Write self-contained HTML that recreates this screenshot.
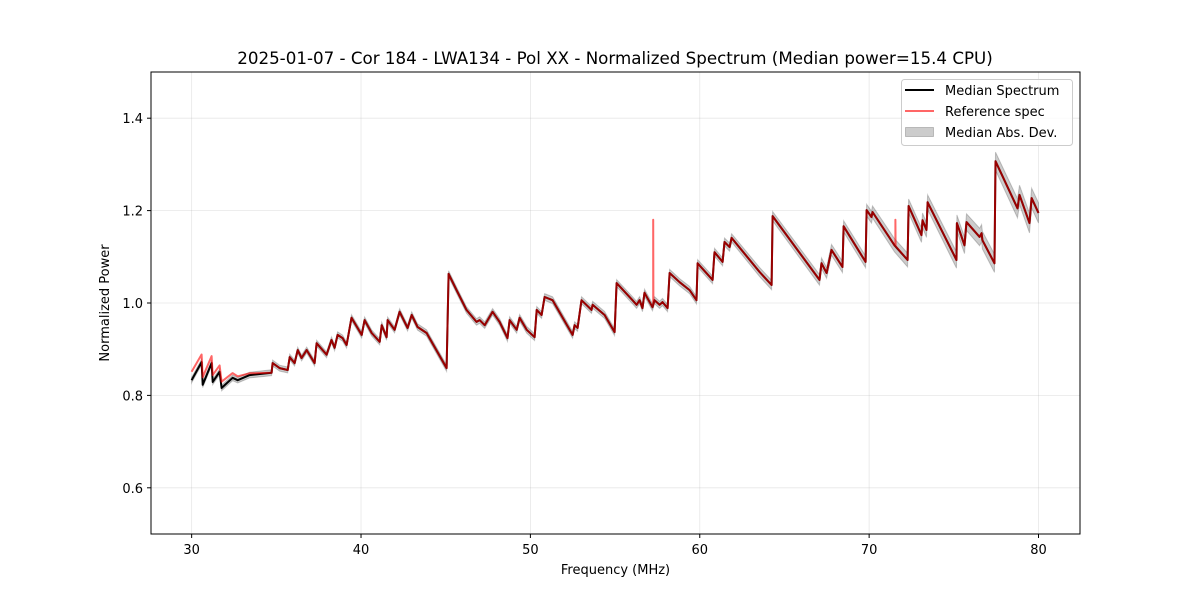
<!DOCTYPE html>
<html><head><meta charset="utf-8">
<style>
html,body{margin:0;padding:0;background:#fff;}
svg text{font-family:"DejaVu Sans","Liberation Sans",sans-serif;}
</style></head>
<body>
<svg id="chart" width="1200" height="600" viewBox="0 0 1200 600" xmlns="http://www.w3.org/2000/svg">
<rect width="1200" height="600" fill="#fff"/>
<text x="615" y="64" font-size="16.7" text-anchor="middle" fill="#000">2025-01-07 - Cor 184 - LWA134 - Pol XX - Normalized Spectrum (Median power=15.4 CPU)</text>
<g id="grid"></g>
<g id="series"></g>
<rect x="151" y="72" width="929" height="462" fill="none" stroke="#000" stroke-width="1"/>
<g id="ticks"></g>
<text x="615.5" y="574" font-size="13" text-anchor="middle">Frequency (MHz)</text>
<text transform="translate(109,303) rotate(-90)" font-size="13" text-anchor="middle">Normalized Power</text>
<g>
<rect x="901.5" y="79.5" width="171" height="66" rx="3" fill="#fff" fill-opacity="0.8" stroke="#ccc"/>
<line x1="905" y1="90" x2="934" y2="90" stroke="#000" stroke-width="2"/>
<text x="945" y="95" font-size="13">Median Spectrum</text>
<line x1="905" y1="111" x2="934" y2="111" stroke="#ff0000" stroke-opacity="0.6" stroke-width="2"/>
<text x="945" y="116" font-size="13">Reference spec</text>
<rect x="905.5" y="127.5" width="28" height="9" fill="#000" fill-opacity="0.2" stroke="#000" stroke-opacity="0.2"/>
<text x="945" y="137" font-size="13">Median Abs. Dev.</text>
</g>
</svg>
<script>
const freqs=[30.00,30.59,30.65,31.18,31.24,31.65,31.77,32.42,32.72,33.42,34.72,34.78,35.19,35.67,35.79,36.08,36.26,36.49,36.79,37.26,37.38,37.97,38.26,38.44,38.62,38.91,39.15,39.44,40.04,40.21,40.63,41.10,41.22,41.51,41.57,41.98,42.28,42.75,42.99,43.34,43.87,45.05,45.17,45.64,46.23,46.82,47.00,47.30,47.77,48.18,48.65,48.77,49.19,49.36,49.78,50.25,50.37,50.66,50.84,51.31,52.49,52.61,52.79,53.02,53.61,53.67,54.38,54.97,55.09,56.03,56.27,56.45,56.62,56.74,57.21,57.33,57.63,57.80,58.10,58.22,58.81,59.40,59.81,59.87,60.76,60.87,61.35,61.46,61.76,61.88,63.53,64.24,64.30,67.07,67.19,67.49,67.78,68.43,68.49,69.79,69.85,70.14,70.20,71.50,72.27,72.33,73.09,73.15,73.39,73.45,75.16,75.18,75.63,75.75,76.52,76.64,76.69,77.40,77.46,78.76,78.88,79.47,79.59,80.00];
const median=[0.833,0.872,0.823,0.870,0.829,0.851,0.816,0.838,0.833,0.844,0.849,0.870,0.859,0.855,0.883,0.870,0.898,0.881,0.898,0.870,0.913,0.888,0.920,0.903,0.931,0.924,0.909,0.968,0.931,0.963,0.935,0.916,0.952,0.926,0.963,0.942,0.981,0.946,0.974,0.948,0.935,0.859,1.063,1.028,0.985,0.959,0.963,0.952,0.981,0.959,0.924,0.963,0.942,0.968,0.942,0.926,0.985,0.974,1.013,1.006,0.931,0.952,0.946,1.006,0.985,0.996,0.974,0.937,1.043,1.006,0.996,1.006,0.989,1.022,0.991,1.006,0.996,1.002,0.989,1.065,1.045,1.028,1.006,1.086,1.050,1.110,1.089,1.132,1.121,1.141,1.067,1.039,1.188,1.050,1.086,1.065,1.115,1.078,1.166,1.089,1.201,1.186,1.197,1.125,1.093,1.210,1.147,1.179,1.158,1.218,1.093,1.173,1.125,1.175,1.143,1.151,1.136,1.086,1.307,1.205,1.234,1.173,1.227,1.195];
const refOffsetFreqs=[30,32,33.4,34];
const refOffsetValues=[0.018,0.013,0.004,0];
const spikeFreqs=[57.25,71.55];
const spikeValues=[1.18,1.18];
const madFreqs=[30,60,70,80];
const madValues=[0.006,0.008,0.013,0.022];
const xTicks=[30,40,50,60,70,80];
const yTicks=[0.6,0.8,1.0,1.2,1.4];

const X0=151,X1=1080,Y0=534,Y1=72;
const xMin=27.6,xMax=82.45,yMin=0.5,yMax=1.5;
function sx(f){return X0+(f-xMin)/(xMax-xMin)*(X1-X0);}
function sy(v){return Y0-(v-yMin)/(yMax-yMin)*(Y0-Y1);}
function interp(xs,ys,x){if(x<=xs[0])return ys[0];for(let i=1;i<xs.length;i++){if(x<=xs[i]){const t=(x-xs[i-1])/(xs[i]-xs[i-1]);return ys[i-1]+t*(ys[i]-ys[i-1]);}}return ys[ys.length-1];}
const NS="http://www.w3.org/2000/svg";
function mk(tag,attrs,parent){const e=document.createElementNS(NS,tag);for(const k in attrs)e.setAttribute(k,attrs[k]);parent.appendChild(e);return e;}
const grid=document.getElementById('grid'),ticks=document.getElementById('ticks'),ser=document.getElementById('series');
xTicks.forEach(t=>{
  const gl=mk('line',{x1:sx(t),x2:sx(t),y1:Y1,y2:Y0,stroke:'#b0b0b0','stroke-opacity':0.3,'stroke-width':0.8},grid);
  
  
  const tk=mk('line',{x1:sx(t),x2:sx(t),y1:Y0,y2:Y0+4,stroke:'#000','stroke-width':1},ticks);
  
  
  const tx=mk('text',{x:sx(t),y:Y0+20,'font-size':13,'text-anchor':'middle'},ticks);
  tx.textContent=String(t);
  
  
});
yTicks.forEach(t=>{
  const gl=mk('line',{x1:X0,x2:X1,y1:sy(t),y2:sy(t),stroke:'#b0b0b0','stroke-opacity':0.3,'stroke-width':0.8},grid);
  
  
  const tk=mk('line',{x1:X0-4,x2:X0,y1:sy(t),y2:sy(t),stroke:'#000','stroke-width':1},ticks);
  
  
  const tx=mk('text',{x:X0-8,y:sy(t)+5,'font-size':13,'text-anchor':'end'},ticks);
  tx.textContent=t.toFixed(1);
  
  
});
let up=[],dn=[];
freqs.forEach((f,i)=>{const m=interp(madFreqs,madValues,f);up.push(sx(f).toFixed(1)+','+sy(median[i]+m).toFixed(1));dn.push(sx(f).toFixed(1)+','+sy(median[i]-m).toFixed(1));});
const band=mk('polygon',{points:up.concat(dn.reverse()).join(' '),fill:'#000','fill-opacity':0.2,stroke:'#000','stroke-opacity':0.2,'stroke-width':1},ser);


const mp=freqs.map((f,i)=>sx(f).toFixed(1)+','+sy(median[i]).toFixed(1)).join(' ');
const ml=mk('polyline',{points:mp,fill:'none',stroke:'#000','stroke-width':2,'stroke-linejoin':'round'},ser);


let rp=[];
freqs.forEach((f,i)=>{
  spikeFreqs.forEach((sf,j)=>{if(i>0&&freqs[i-1]<sf&&f>=sf){const base=interp(freqs,median,sf);rp.push([sf,base],[sf,spikeValues[j]],[sf+0.01,base]);}});
  rp.push([f,median[i]+interp(refOffsetFreqs,refOffsetValues,f)]);
});
const rl=mk('polyline',{points:rp.map(p=>sx(p[0]).toFixed(1)+','+sy(p[1]).toFixed(1)).join(' '),fill:'none',stroke:'#ff0000','stroke-opacity':0.6,'stroke-width':2,'stroke-linejoin':'round'},ser);


</script>
</body></html>
